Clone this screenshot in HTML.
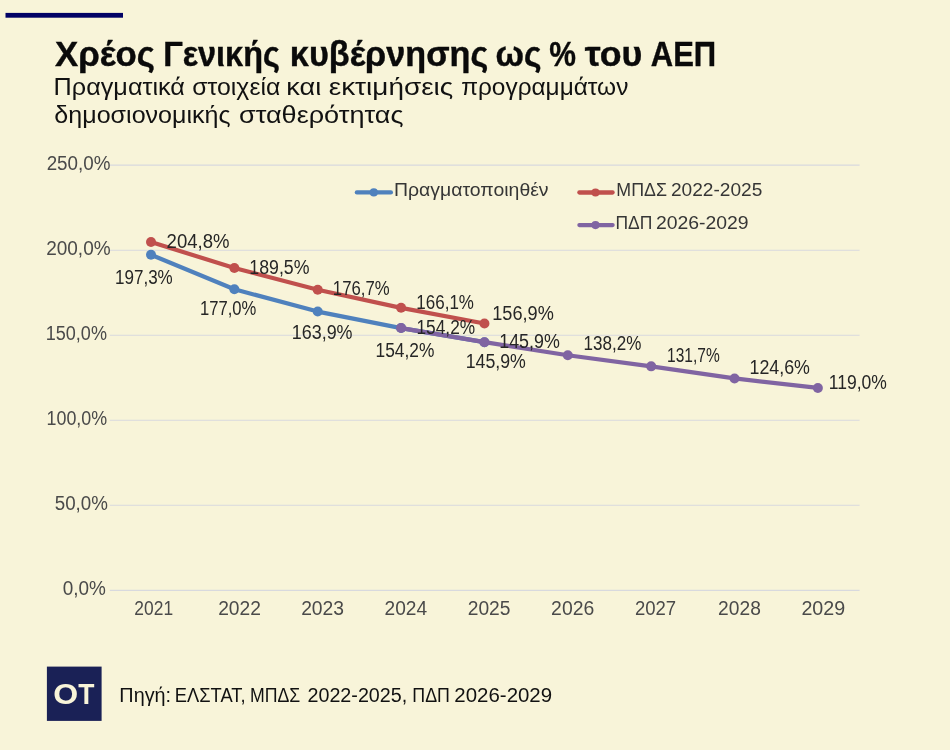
<!DOCTYPE html>
<html><head><meta charset="utf-8"><title>chart</title>
<style>
html,body{margin:0;padding:0;background:#f8f4d9;}
body{width:950px;height:750px;overflow:hidden;font-family:"Liberation Sans",sans-serif;}
svg{display:block;will-change:transform;}
text{font-family:"Liberation Sans",sans-serif;}
</style></head><body>
<svg width="950" height="750" viewBox="0 0 950 750">
<rect width="950" height="750" fill="#f8f4d9"/>
<rect x="5.5" y="12.9" width="117.5" height="4.8" fill="#020266"/>
<g id="grid">
<line x1="109.8" x2="859.6" y1="590.4" y2="590.4" stroke="#d8d9de" stroke-width="1.1"/>
<line x1="109.8" x2="859.6" y1="505.3" y2="505.3" stroke="#d8d9de" stroke-width="1.1"/>
<line x1="109.8" x2="859.6" y1="420.3" y2="420.3" stroke="#d8d9de" stroke-width="1.1"/>
<line x1="109.8" x2="859.6" y1="335.2" y2="335.2" stroke="#d8d9de" stroke-width="1.1"/>
<line x1="109.8" x2="859.6" y1="250.2" y2="250.2" stroke="#d8d9de" stroke-width="1.1"/>
<line x1="109.8" x2="859.6" y1="165.1" y2="165.1" stroke="#d8d9de" stroke-width="1.1"/>
</g>
<g id="series">
<polyline fill="none" stroke="#4f81bd" stroke-width="4.2" stroke-linejoin="round" stroke-linecap="round" points="151.0,254.75 234.36,289.29 317.72,311.57 401.08,328.07 484.44,342.19"/>
<circle cx="151.0" cy="254.75" r="5" fill="#4f81bd"/>
<circle cx="234.36" cy="289.29" r="5" fill="#4f81bd"/>
<circle cx="317.72" cy="311.57" r="5" fill="#4f81bd"/>
<circle cx="401.08" cy="328.07" r="5" fill="#4f81bd"/>
<circle cx="484.44" cy="342.19" r="5" fill="#4f81bd"/>
<polyline fill="none" stroke="#c0504d" stroke-width="4.2" stroke-linejoin="round" stroke-linecap="round" points="151.0,241.99 234.36,268.02 317.72,289.8 401.08,307.83 484.44,323.48"/>
<circle cx="151.0" cy="241.99" r="5" fill="#c0504d"/>
<circle cx="234.36" cy="268.02" r="5" fill="#c0504d"/>
<circle cx="317.72" cy="289.8" r="5" fill="#c0504d"/>
<circle cx="401.08" cy="307.83" r="5" fill="#c0504d"/>
<circle cx="484.44" cy="323.48" r="5" fill="#c0504d"/>
<polyline fill="none" stroke="#8064a2" stroke-width="4.2" stroke-linejoin="round" stroke-linecap="round" points="401.08,328.07 484.44,342.19 567.8,355.29 651.16,366.35 734.52,378.43 817.88,387.96"/>
<circle cx="401.08" cy="328.07" r="5" fill="#8064a2"/>
<circle cx="484.44" cy="342.19" r="5" fill="#8064a2"/>
<circle cx="567.8" cy="355.29" r="5" fill="#8064a2"/>
<circle cx="651.16" cy="366.35" r="5" fill="#8064a2"/>
<circle cx="734.52" cy="378.43" r="5" fill="#8064a2"/>
<circle cx="817.88" cy="387.96" r="5" fill="#8064a2"/>
<line x1="356.9" x2="390.9" y1="192.4" y2="192.4" stroke="#4f81bd" stroke-width="4.3" stroke-linecap="round"/><circle cx="373.8" cy="192.4" r="4.1" fill="#4f81bd"/>
<line x1="579.4" x2="612.6" y1="192.5" y2="192.5" stroke="#c0504d" stroke-width="4.3" stroke-linecap="round"/><circle cx="595.5" cy="192.5" r="4.1" fill="#c0504d"/>
<line x1="579.4" x2="612.6" y1="225.1" y2="225.1" stroke="#8064a2" stroke-width="4.3" stroke-linecap="round"/><circle cx="595.5" cy="225.1" r="4.1" fill="#8064a2"/>
<rect x="46.9" y="666.6" width="54.7" height="54.3" fill="#1a2156"/>
</g>
<g id="texts">
<text id="t0" x="55.00" y="65.80" font-size="35" fill="#0a0a0a" textLength="99.87" lengthAdjust="spacingAndGlyphs" font-weight="bold" stroke="#0a0a0a" stroke-width="0.4">Χρέος</text>
<text id="t1" x="163.13" y="65.80" font-size="35" fill="#0a0a0a" textLength="116.74" lengthAdjust="spacingAndGlyphs" font-weight="bold" stroke="#0a0a0a" stroke-width="0.4">Γενικής</text>
<text id="t2" x="289.84" y="65.80" font-size="35" fill="#0a0a0a" textLength="198.40" lengthAdjust="spacingAndGlyphs" font-weight="bold" stroke="#0a0a0a" stroke-width="0.4">κυβέρνησης</text>
<text id="t3" x="495.55" y="65.80" font-size="35" fill="#0a0a0a" textLength="45.98" lengthAdjust="spacingAndGlyphs" font-weight="bold" stroke="#0a0a0a" stroke-width="0.4">ως</text>
<text id="t4" x="549.30" y="65.80" font-size="35" fill="#0a0a0a" textLength="26.68" lengthAdjust="spacingAndGlyphs" font-weight="bold" stroke="#0a0a0a" stroke-width="0.4">%</text>
<text id="t5" x="584.81" y="65.80" font-size="35" fill="#0a0a0a" textLength="57.63" lengthAdjust="spacingAndGlyphs" font-weight="bold" stroke="#0a0a0a" stroke-width="0.4">του</text>
<text id="t6" x="650.78" y="65.80" font-size="35" fill="#0a0a0a" textLength="65.42" lengthAdjust="spacingAndGlyphs" font-weight="bold" stroke="#0a0a0a" stroke-width="0.4">ΑΕΠ</text>
<text id="t7" x="53.63" y="94.90" font-size="23.8" fill="#111111" textLength="131.28" lengthAdjust="spacingAndGlyphs">Πραγματικά</text>
<text id="t8" x="192.32" y="94.90" font-size="23.8" fill="#111111" textLength="87.98" lengthAdjust="spacingAndGlyphs">στοιχεία</text>
<text id="t9" x="286.34" y="94.90" font-size="23.8" fill="#111111" textLength="34.85" lengthAdjust="spacingAndGlyphs">και</text>
<text id="t10" x="328.71" y="94.90" font-size="23.8" fill="#111111" textLength="124.56" lengthAdjust="spacingAndGlyphs">εκτιμήσεις</text>
<text id="t11" x="461.16" y="94.90" font-size="23.8" fill="#111111" textLength="167.21" lengthAdjust="spacingAndGlyphs">προγραμμάτων</text>
<text id="t12" x="54.38" y="123.00" font-size="23.8" fill="#111111" textLength="176.16" lengthAdjust="spacingAndGlyphs">δημοσιονομικής</text>
<text id="t13" x="239.00" y="123.00" font-size="23.8" fill="#111111" textLength="164.45" lengthAdjust="spacingAndGlyphs">σταθερότητας</text>
<text id="t14" x="62.68" y="594.90" font-size="19.5" fill="#4a4a4a" textLength="43.18" lengthAdjust="spacingAndGlyphs">0,0%</text>
<text id="t15" x="54.76" y="509.84" font-size="19.5" fill="#4a4a4a" textLength="53.18" lengthAdjust="spacingAndGlyphs">50,0%</text>
<text id="t16" x="46.50" y="424.78" font-size="19.5" fill="#4a4a4a" textLength="60.61" lengthAdjust="spacingAndGlyphs">100,0%</text>
<text id="t17" x="45.71" y="339.72" font-size="19.5" fill="#4a4a4a" textLength="61.25" lengthAdjust="spacingAndGlyphs">150,0%</text>
<text id="t18" x="46.16" y="254.66" font-size="19.5" fill="#4a4a4a" textLength="64.45" lengthAdjust="spacingAndGlyphs">200,0%</text>
<text id="t19" x="46.65" y="169.60" font-size="19.5" fill="#4a4a4a" textLength="63.84" lengthAdjust="spacingAndGlyphs">250,0%</text>
<text id="t20" x="134.33" y="614.90" font-size="19.5" fill="#4a4a4a" textLength="38.74" lengthAdjust="spacingAndGlyphs">2021</text>
<text id="t21" x="218.13" y="614.90" font-size="19.5" fill="#4a4a4a" textLength="42.76" lengthAdjust="spacingAndGlyphs">2022</text>
<text id="t22" x="301.13" y="614.90" font-size="19.5" fill="#4a4a4a" textLength="42.96" lengthAdjust="spacingAndGlyphs">2023</text>
<text id="t23" x="384.51" y="614.90" font-size="19.5" fill="#4a4a4a" textLength="42.59" lengthAdjust="spacingAndGlyphs">2024</text>
<text id="t24" x="467.70" y="614.90" font-size="19.5" fill="#4a4a4a" textLength="42.79" lengthAdjust="spacingAndGlyphs">2025</text>
<text id="t25" x="551.10" y="614.90" font-size="19.5" fill="#4a4a4a" textLength="43.14" lengthAdjust="spacingAndGlyphs">2026</text>
<text id="t26" x="634.95" y="614.90" font-size="19.5" fill="#4a4a4a" textLength="41.21" lengthAdjust="spacingAndGlyphs">2027</text>
<text id="t27" x="718.12" y="614.90" font-size="19.5" fill="#4a4a4a" textLength="42.70" lengthAdjust="spacingAndGlyphs">2028</text>
<text id="t28" x="801.43" y="614.90" font-size="19.5" fill="#4a4a4a" textLength="43.80" lengthAdjust="spacingAndGlyphs">2029</text>
<text id="t29" x="166.57" y="247.80" font-size="19.5" fill="#262626" textLength="62.92" lengthAdjust="spacingAndGlyphs">204,8%</text>
<text id="t30" x="249.37" y="273.60" font-size="19.5" fill="#262626" textLength="60.12" lengthAdjust="spacingAndGlyphs">189,5%</text>
<text id="t31" x="332.84" y="295.40" font-size="19.5" fill="#262626" textLength="56.74" lengthAdjust="spacingAndGlyphs">176,7%</text>
<text id="t32" x="416.32" y="308.50" font-size="19.5" fill="#262626" textLength="57.64" lengthAdjust="spacingAndGlyphs">166,1%</text>
<text id="t33" x="492.25" y="319.80" font-size="19.5" fill="#262626" textLength="61.56" lengthAdjust="spacingAndGlyphs">156,9%</text>
<text id="t34" x="115.00" y="283.60" font-size="19.5" fill="#262626" textLength="57.77" lengthAdjust="spacingAndGlyphs">197,3%</text>
<text id="t35" x="200.00" y="314.50" font-size="19.5" fill="#262626" textLength="56.31" lengthAdjust="spacingAndGlyphs">177,0%</text>
<text id="t36" x="291.75" y="338.70" font-size="19.5" fill="#262626" textLength="60.81" lengthAdjust="spacingAndGlyphs">163,9%</text>
<text id="t37" x="375.53" y="356.80" font-size="19.5" fill="#262626" textLength="58.82" lengthAdjust="spacingAndGlyphs">154,2%</text>
<text id="t38" x="465.70" y="367.70" font-size="19.5" fill="#262626" textLength="60.18" lengthAdjust="spacingAndGlyphs">145,9%</text>
<text id="t39" x="416.48" y="333.80" font-size="19.5" fill="#262626" textLength="58.67" lengthAdjust="spacingAndGlyphs">154,2%</text>
<text id="t40" x="499.22" y="348.10" font-size="19.5" fill="#262626" textLength="60.56" lengthAdjust="spacingAndGlyphs">145,9%</text>
<text id="t41" x="583.52" y="349.80" font-size="19.5" fill="#262626" textLength="57.82" lengthAdjust="spacingAndGlyphs">138,2%</text>
<text id="t42" x="667.09" y="362.20" font-size="19.5" fill="#262626" textLength="52.65" lengthAdjust="spacingAndGlyphs">131,7%</text>
<text id="t43" x="749.53" y="374.30" font-size="19.5" fill="#262626" textLength="60.43" lengthAdjust="spacingAndGlyphs">124,6%</text>
<text id="t44" x="828.77" y="388.70" font-size="19.5" fill="#262626" textLength="58.13" lengthAdjust="spacingAndGlyphs">119,0%</text>
<text id="t45" x="393.90" y="196.30" font-size="19.0" fill="#363636" textLength="154.71" lengthAdjust="spacingAndGlyphs">Πραγματοποιηθέν</text>
<text id="t46" x="616.31" y="196.30" font-size="19.0" fill="#363636" textLength="50.62" lengthAdjust="spacingAndGlyphs">ΜΠΔΣ</text>
<text id="t47" x="670.96" y="196.30" font-size="19.0" fill="#363636" textLength="91.37" lengthAdjust="spacingAndGlyphs">2022-2025</text>
<text id="t48" x="615.40" y="229.00" font-size="19.0" fill="#363636" textLength="36.88" lengthAdjust="spacingAndGlyphs">ΠΔΠ</text>
<text id="t49" x="655.90" y="229.00" font-size="19.0" fill="#363636" textLength="92.77" lengthAdjust="spacingAndGlyphs">2026-2029</text>
<text id="t50" x="53.37" y="704.30" font-size="28.8" fill="#f8f4d9" textLength="24.92" lengthAdjust="spacingAndGlyphs" font-weight="bold">O</text>
<text id="t51" x="78.19" y="704.30" font-size="28.8" fill="#f8f4d9" textLength="16.19" lengthAdjust="spacingAndGlyphs" font-weight="bold">T</text>
<text id="t52" x="119.39" y="701.60" font-size="19.5" fill="#111111" textLength="51.73" lengthAdjust="spacingAndGlyphs">Πηγή:</text>
<text id="t53" x="174.85" y="701.60" font-size="19.5" fill="#111111" textLength="70.71" lengthAdjust="spacingAndGlyphs">ΕΛΣΤΑΤ,</text>
<text id="t54" x="250.00" y="701.60" font-size="19.5" fill="#111111" textLength="50.26" lengthAdjust="spacingAndGlyphs">ΜΠΔΣ</text>
<text id="t55" x="307.49" y="701.60" font-size="19.5" fill="#111111" textLength="99.74" lengthAdjust="spacingAndGlyphs">2022-2025,</text>
<text id="t56" x="412.36" y="701.60" font-size="19.5" fill="#111111" textLength="37.57" lengthAdjust="spacingAndGlyphs">ΠΔΠ</text>
<text id="t57" x="454.36" y="701.60" font-size="19.5" fill="#111111" textLength="97.74" lengthAdjust="spacingAndGlyphs">2026-2029</text>
</g>
</svg>
</body></html>
